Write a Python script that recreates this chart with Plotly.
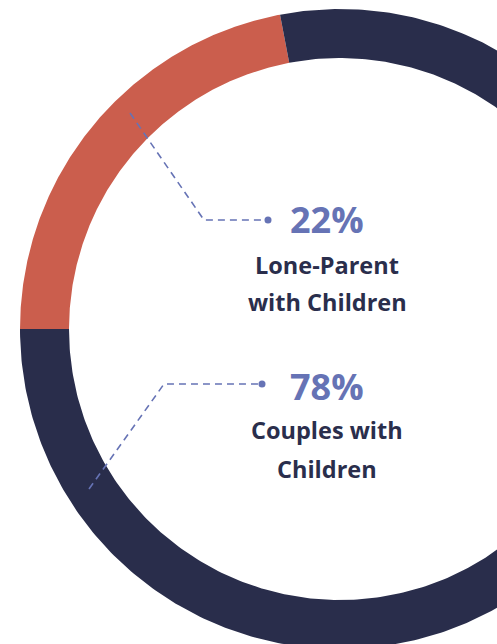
import numpy as np
import plotly.graph_objects as go

# ---- data ----
categories = ["Lone-Parent with Children", "Couples with Children"]
label_lines = [["Lone-Parent", "with Children"], ["Couples with", "Children"]]
values = [22, 78]
slice_colors = ["#cb5e4d", "#292d4b"]

# ---- layout constants (pixels in a 497x644 canvas) ----
W, H = 497, 644
CX, CY = 340, 329          # ring centre (pixels)
R_PX = 320                 # outer radius (pixels)
HOLE = 271 / 320           # inner / outer radius
ACCENT = "#6673b5"
TEXT = "#2a2e4c"
FONT = "Open Sans"


def to_xy(px, py):
    return (px - CX) / R_PX, (CY - py) / R_PX


fig = go.Figure()

# ring slices computed from the values, starting at 9 o'clock going clockwise
total = sum(values)
start = 180.0
for cat, v, col in zip(categories, values, slice_colors):
    sweep = 360.0 * v / total
    th = np.radians(np.linspace(start, start - sweep, 400))
    xs = np.concatenate([np.cos(th), HOLE * np.cos(th[::-1])])
    ys = np.concatenate([np.sin(th), HOLE * np.sin(th[::-1])])
    fig.add_trace(go.Scatter(x=xs, y=ys, fill="toself", fillcolor=col,
                             mode="lines", line=dict(width=0, color=col),
                             hoverinfo="text", text=cat,
                             showlegend=False))
    start -= sweep

# leader lines (pixel positions)
leaders = [
    [(130, 113), (204, 220), (268, 220)],
    [(89, 489), (164, 384), (262, 384)],
]
for pts in leaders:
    xy = [to_xy(*p) for p in pts]
    fig.add_trace(go.Scatter(x=[p[0] for p in xy], y=[p[1] for p in xy],
                             mode="lines", line=dict(color=ACCENT, width=1.6, dash="7px,5px"),
                             hoverinfo="skip", showlegend=False))
    fig.add_trace(go.Scatter(x=[xy[-1][0]], y=[xy[-1][1]], mode="markers",
                             marker=dict(color=ACCENT, size=7),
                             hoverinfo="skip", showlegend=False))

# labels: (centre x, pct y, first line y, line gap)
label_pos = [(327, 219, 265, 37), (327, 386, 430, 39)]
for (lx, py_pct, py_lbl, gap), lines, v in zip(label_pos, label_lines, values):
    x1, y1 = to_xy(lx, py_pct)
    fig.add_annotation(x=x1, y=y1, text=f"<b>{v}%</b>", showarrow=False,
                       xanchor="center", yanchor="middle",
                       font=dict(family=FONT, size=36, color=ACCENT))
    for i, line in enumerate(lines):
        x2, y2 = to_xy(lx, py_lbl + i * gap)
        fig.add_annotation(x=x2, y=y2, text=f"<b>{line}</b>", showarrow=False,
                           xanchor="center", yanchor="middle",
                           font=dict(family=FONT, size=23.5, color=TEXT))

x0, y0 = to_xy(0, 0)
x1, y1 = to_xy(W, H)
fig.update_xaxes(range=[x0, x1], visible=False, fixedrange=True)
fig.update_yaxes(range=[y1, y0], visible=False, fixedrange=True)
fig.update_layout(width=W, height=H, margin=dict(l=0, r=0, t=0, b=0),
                  paper_bgcolor="white", plot_bgcolor="white", showlegend=False)
fig.update_annotations(dict(xref="x", yref="y"))

fig.write_html("out.html", config={"displayModeBar": False},
               post_script="document.body.style.margin='0';")
